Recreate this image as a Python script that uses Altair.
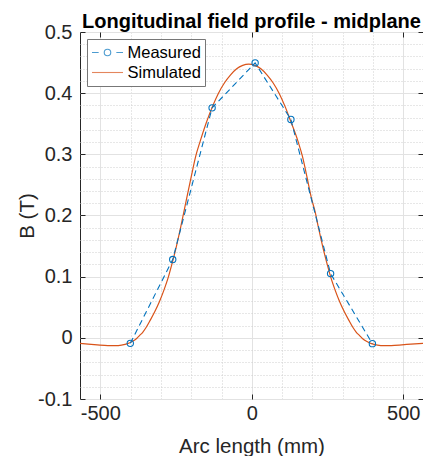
import altair as alt
import pandas as pd

# ---- data ----
meas_x = [-401, -261, -131, 11, 129, 260, 398]
meas_y = [-0.009, 0.128, 0.376, 0.4495, 0.357, 0.105, -0.0095]

sim_x = [-567, -540, -510, -475, -450, -430, -410, -395, -380, -370, -360, -350,
         -335, -320, -305, -290, -275, -265, -250, -235, -225, -215, -200, -185,
         -170, -150, -130, -110, -90, -70, -50, -30, -10, 10, 30, 50, 70, 90, 110,
         130, 152, 167, 182, 197, 210, 220, 235, 250, 260, 275, 290, 305, 320, 335,
         345, 355, 365, 380, 395, 415, 435, 460, 495, 525, 565]
sim_y = [-0.0090, -0.0103, -0.0115, -0.0126, -0.0127, -0.0118, -0.0095, -0.0060,
         -0.0010, 0.0040, 0.0090, 0.0160, 0.0290, 0.0430, 0.0590, 0.0780, 0.1000,
         0.1180, 0.1470, 0.1800, 0.2040, 0.2280, 0.2630, 0.2970, 0.3220, 0.3520,
         0.3780, 0.4000, 0.4170, 0.4300, 0.4400, 0.4455, 0.4475, 0.4455, 0.4400,
         0.4300, 0.4170, 0.4000, 0.3780, 0.3520, 0.3220, 0.2970, 0.2630, 0.2280,
         0.2040, 0.1800, 0.1470, 0.1180, 0.1000, 0.0780, 0.0590, 0.0430, 0.0290,
         0.0160, 0.0090, 0.0040, -0.0010, -0.0060, -0.0095, -0.0118, -0.0127,
         -0.0126, -0.0115, -0.0103, -0.0089]

series_names = ["Measured", "Simulated"]
series_colors = ["#0072BD", "#D95319"]

x_ticks = [-500, 0, 500]
x_minor = [-400, -300, -200, -100, 100, 200, 300, 400]
y_ticks = [-0.1, 0, 0.1, 0.2, 0.3, 0.4, 0.5]
y_minor = [-0.08, -0.06, -0.04, -0.02, 0.02, 0.04, 0.06, 0.08,
           0.12, 0.14, 0.16, 0.18, 0.22, 0.24, 0.26, 0.28,
           0.32, 0.34, 0.36, 0.38, 0.42, 0.44, 0.46, 0.48]

meas = pd.DataFrame({"x": meas_x, "y": meas_y, "series": "Measured"})
sim = pd.DataFrame({"x": sim_x, "y": sim_y, "series": "Simulated"})

FONT = "Liberation Sans"
AX = "#262626"
xs = alt.Scale(domain=[-567, 565], nice=False, zero=False)
ys = alt.Scale(domain=[-0.1, 0.5], nice=False, zero=False)
inward = {"expr": "-5"}

minus_fix = "replace(datum.label, '\u2212', '-')"
ylab = "datum.value == 0 ? '0' : replace(format(datum.value, '.1f'), '\u2212', '-')"

# legend symbol paths (unit coords)
leg_meas = "M-1,0H-0.57M0.57,0H1M0.21,0A0.21,0.21,0,1,1,-0.21,0A0.21,0.21,0,1,1,0.21,0"
leg_sim = "M-1,0H1"

# layer 0: minor grid + legend (no visible marks)
minor = alt.Chart(meas).transform_filter("false").mark_point(filled=False).encode(
    x=alt.X("x:Q", scale=xs, title=None,
            axis=alt.Axis(orient="bottom", values=x_minor, grid=True, gridDash=[1, 2],
                          gridColor="#cfcfcf", gridWidth=1, ticks=False, labels=False,
                          domain=False)),
    y=alt.Y("y:Q", scale=ys, title=None,
            axis=alt.Axis(orient="left", values=y_minor, grid=True, gridDash=[1, 2],
                          gridColor="#cfcfcf", gridWidth=1, ticks=False, labels=False,
                          domain=False)),
    color=alt.Color("series:N", scale=alt.Scale(domain=series_names, range=series_colors),
                    legend=alt.Legend(title=None)),
    shape=alt.Shape("series:N", scale=alt.Scale(domain=series_names, range=[leg_meas, leg_sim]),
                    legend=alt.Legend(title=None)),
)

# layer 1: simulated curve + main axes
sim_line = alt.Chart(sim).mark_line(color="#D95319", strokeWidth=1.2, interpolate="monotone").encode(
    x=alt.X("x:Q", scale=xs, title="Arc length (mm)",
            axis=alt.Axis(orient="bottom", values=x_ticks, grid=True, gridColor="#e2e2e2",
                          gridWidth=1, domain=False, tickColor=AX, tickSize=inward,
                          labelPadding=9, labelFont=FONT, labelFontSize=20, labelColor=AX,
                          labelExpr=minus_fix, labelFlush=False,
                          titleFont=FONT, titleFontSize=20.5, titleFontWeight="normal",
                          titleColor=AX, titlePadding=13)),
    y=alt.Y("y:Q", scale=ys, title="B (T)",
            axis=alt.Axis(orient="left", values=y_ticks, grid=True, gridColor="#e2e2e2",
                          gridWidth=1, domain=False, tickColor=AX, tickSize=inward,
                          labelPadding=13, labelFont=FONT, labelFontSize=20, labelColor=AX,
                          labelExpr=ylab, labelFlush=False,
                          titleFont=FONT, titleFontSize=20.5, titleFontWeight="normal",
                          titleColor=AX, titlePadding=0)),
)

# layer 2: measured dashed line + top/right tick axes
meas_line = alt.Chart(meas).mark_line(color="#0072BD", strokeWidth=1.1, strokeDash=[6, 4]).encode(
    x=alt.X("x:Q", scale=xs, title=None,
            axis=alt.Axis(orient="top", values=x_ticks, grid=False, labels=False, domain=False,
                          tickColor=AX, tickSize=inward)),
    y=alt.Y("y:Q", scale=ys, title=None,
            axis=alt.Axis(orient="right", values=y_ticks, grid=False, labels=False, domain=False,
                          tickColor=AX, tickSize=inward)),
)

# layer 3: measured circles
meas_pts = alt.Chart(meas).mark_point(shape="circle", filled=False, color="#0072BD",
                                      size=40, strokeWidth=1.1, opacity=1).encode(
    x=alt.X("x:Q", scale=xs, axis=None),
    y=alt.Y("y:Q", scale=ys, axis=None),
)

chart = alt.layer(minor, sim_line, meas_line, meas_pts).resolve_axis(
    x="independent", y="independent"
).properties(
    width=343, height=367,
    autosize=alt.AutoSizeParams(type="none"),
    padding={"left": 72, "top": 24, "right": 0, "bottom": 57},
    title=alt.TitleParams("Longitudinal field profile - midplane", font=FONT, fontSize=20,
                          fontWeight="bold", color="black", anchor="middle", offset=4, dy=13.5),
).configure_view(
    stroke=AX, strokeWidth=1
).configure_legend(
    orient="none", legendX=7, legendY=7, fillColor="white", strokeColor="#777777",
    padding=4, labelFont=FONT, labelFontSize=16.5, labelColor="black", labelOffset=3.5,
    symbolSize=961, symbolStrokeWidth=1.1, rowPadding=1, clipHeight=19,
)

chart.save("out.html", embed_options={"renderer": "svg", "actions": False})
